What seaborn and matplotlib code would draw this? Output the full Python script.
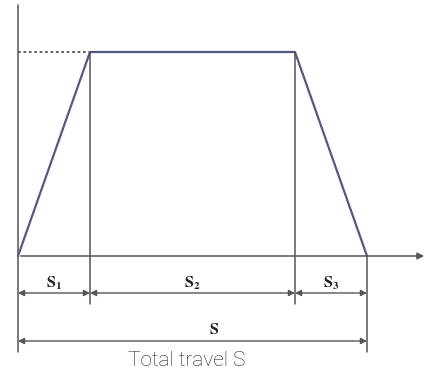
import numpy as np
import pandas as pd
import seaborn as sns
import matplotlib.pyplot as plt

# travel phases: acceleration, constant speed, deceleration
PHASE_LENGTHS = [72, 205, 72]
PHASE_LABELS = [r"$\mathbf{S_1}$", r"$\mathbf{S_2}$", r"$\mathbf{S_3}$"]
V_MAX = 204
TOTAL_LABEL = r"$\mathbf{S}$"
CAPTION = "Total travel S"

LINE_GRAY = "#555555"
PROFILE_BLUE = "#55558f"

sns.set_style("white")
plt.rcParams["mathtext.fontset"] = "stix"

edges = np.concatenate([[0], np.cumsum(PHASE_LENGTHS)])
total = edges[-1]
profile = pd.DataFrame({"s": edges, "v": [0, V_MAX, V_MAX, 0]})

fig = plt.figure(figsize=(4.3, 3.76), dpi=100)
ax = fig.add_axes([0, 0, 1, 1])
ax.set_xlim(-18, 412)
ax.set_ylim(-120, 256)
ax.axis("off")

# axes of the diagram
ax.plot([0, 0], [251, -96], color=LINE_GRAY, lw=1.1)
ax.annotate("", xy=(total + 60, 0), xytext=(0, 0),
            arrowprops=dict(arrowstyle="-|>", color=LINE_GRAY, lw=1.1, mutation_scale=10))

# velocity profile
ax.plot([0, edges[1]], [V_MAX, V_MAX], color=LINE_GRAY, lw=1.3, ls=(0, (1.5, 1.5)))
sns.lineplot(data=profile, x="s", y="v", sort=False, color=PROFILE_BLUE, lw=1.6, ax=ax)

# extension lines
for x in edges[1:3]:
    ax.plot([x, x], [V_MAX, -48], color=LINE_GRAY, lw=1.1)
ax.plot([total, total], [0, -96], color=LINE_GRAY, lw=1.1)

# dimension arrows
dim = dict(arrowstyle="<|-|>", color=LINE_GRAY, lw=1.0, mutation_scale=9, shrinkA=0, shrinkB=0)
for a, b, lab in zip(edges[:-1], edges[1:], PHASE_LABELS):
    ax.annotate("", xy=(a, -37), xytext=(b, -37), arrowprops=dim)
    ax.text((a + b) / 2, -27, lab, ha="center", va="center", fontsize=11.5, color="#222222")
ax.annotate("", xy=(0, -85), xytext=(total, -85), arrowprops=dim)
ax.text(total / 2 + 22, -74, TOTAL_LABEL, ha="center", va="center", fontsize=11.5, color="#222222")

ax.text(total / 2 - 6, -105, CAPTION, ha="center", va="center", fontsize=15,
        family=["Roboto", "DejaVu Sans"], fontweight="light", color="#222222")

fig.savefig("out.png", dpi=100)
